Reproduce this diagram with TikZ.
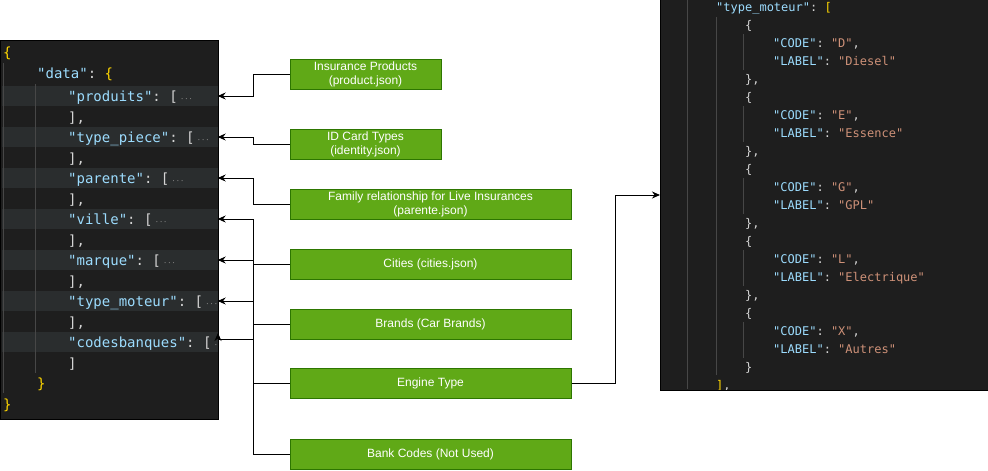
\documentclass[tikz,border=0pt]{standalone}
\usepackage{fontspec}
\setmainfont{Liberation Sans}
\setmonofont{DejaVu Sans Mono}
\usetikzlibrary{positioning, arrows.meta}

\definecolor{codebg}{HTML}{1E1E1E}
\definecolor{rowbg}{HTML}{2A2D2E}
\definecolor{guidegray}{HTML}{474747}
\definecolor{keyblue}{HTML}{9CDCFE}
\definecolor{strorange}{HTML}{CE9178}
\definecolor{punct}{HTML}{D4D4D4}
\definecolor{bracegold}{HTML}{FFD700}
\definecolor{foldgray}{HTML}{8A8A8A}
\definecolor{boxgreen}{HTML}{60A917}
\definecolor{boxborder}{HTML}{2D7600}

\newcommand{\jkey}[1]{\textcolor{keyblue}{#1}}
\newcommand{\jstr}[1]{\textcolor{strorange}{#1}}
\newcommand{\jbrace}[1]{\textcolor{bracegold}{#1}}
\newcommand{\foldmark}{\,{\color{foldgray}\fontsize{7}{7}\selectfont\textperiodcentered\textperiodcentered\textperiodcentered}}

\tikzset{
  >={Stealth[length=8pt, width=7pt]}, % classic arrow heads
  infobox/.style={draw=boxborder, fill=boxgreen, text=white, line width=1pt, minimum height=30pt, align=center, font=\fontsize{12}{14}\selectfont, inner sep=0.5pt}, % green boxes
  smallbox/.style={infobox, minimum width=151pt},
  widebox/.style={infobox, minimum width=281pt},
  link/.style={->, line width=1pt}, % connectors
  code/.style={anchor=base west, inner sep=0pt, text=punct, font=\ttfamily\fontsize{14}{14}\selectfont},
  codesm/.style={code, font=\ttfamily\fontsize{12}{12}\selectfont},
  hlrow/.style={fill=rowbg, minimum width=216pt, minimum height=20pt, inner sep=0pt},
  guide/.style={draw=guidegray, line width=1pt},
}

\begin{document}
\begin{tikzpicture}[x=1pt, y=-1pt]
    \useasboundingbox (0,0) rectangle (988,471);

    % left json panel
    \filldraw[fill=codebg, draw=black, line width=1pt] (0,40) rectangle (218,419);
    \foreach \yy/\nm in {96/prod, 137/piece, 178/parente, 219/ville, 260/marque, 301/moteur, 342/codes}
        \node[hlrow] (row\nm) at (109.5,\yy) {};
    \draw[guide] (3,63) -- (3,393);
    \draw[guide] (35,84) -- (35,373);

    \begin{scope}
        \clip (0,40) rectangle (218,419);
        \node[code] (lopen) at (3,57) {\jbrace{\{}};
        \node[code] (ldata) at (37,78) {\jkey{"data"}: \jbrace{\{}};
        \foreach \k [count=\i from 0] in {produits, type\_piece, parente, ville, marque, type\_moteur, codesbanques} {
            \node[code] (key\i) at (68,{101+41*\i}) {\jkey{"\k"}: [\foldmark};
            \node[code] (close\i) at (68,{122+41*\i}) {]\ifnum\i<6 ,\fi};
        }
        \node[code] (ldataend) at (37,388) {\jbrace{\}}};
        \node[code] (lend) at (3,409) {\jbrace{\}}};
    \end{scope}

    % right json panel
    \fill[codebg] (660,-5) rectangle (993,390);
    \draw[line width=1pt] (660,-5) -- (660,390) -- (993,390);
    \draw[guide] (687,-5) -- (687,389);
    \draw[guide] (716,17) -- (716,375);
    \foreach \i in {0,...,4}
        \draw[guide] (743,{34+72*\i}) -- (743,{70+72*\i});

    \begin{scope}
        \clip (660,-5) rectangle (993,389.5);
        \node[codesm] (moteurkey) at (716,11) {\jkey{"type\_moteur"}: \jbrace{[}};
        \foreach \c/\l [count=\i from 0] in {D/Diesel, E/Essence, G/GPL, L/Electrique, X/Autres} {
            \node[codesm] (open\c) at (745,{29+72*\i}) {\{};
            \node[codesm] (code\c) at (773,{47+72*\i}) {\jkey{"CODE"}: \jstr{"\c"},};
            \node[codesm] (label\c) at (773,{65+72*\i}) {\jkey{"LABEL"}: \jstr{"\l"}};
            \node[codesm] (shut\c) at (745,{83+72*\i}) {\}\ifnum\i<4 ,\fi};
        }
        \node[codesm] (moteurend) at (716,389) {\jbrace{]},};
    \end{scope}

    % source boxes
    \node[smallbox] (products) at (365.5,74) {Insurance Products\\(product.json)};
    \node[smallbox, below=39pt of products] (idcards) {ID Card Types\\(identity.json)};
    \node[widebox, below=29pt of idcards.south west, anchor=north west] (family) {Family relationship for Live Insurances\\(parente.json)};
    \node[widebox, below=29pt of family] (cities) {Cities (cities.json)};
    \node[widebox, below=29pt of cities] (brands) {Brands (Car Brands)};
    \node[widebox, below=28pt of brands] (engine) {Engine Type};
    \node[widebox, below=40pt of engine] (bank) {Bank Codes (Not Used)};

    \coordinate (codesin) at (218,333);
    \coordinate (moteurin) at (660,195);

    \draw[link] (products.west) -- ++(-36,0) |- (rowprod.east);
    \draw[link] (idcards.west) -- ++(-36,0) |- (rowpiece.east);
    \draw[link] (family.west) -- ++(-36,0) |- (rowparente.east);
    \draw[link] (cities.west) -- ++(-36,0) |- (rowville.east);
    \draw[link] (brands.west) -- ++(-36,0) |- (rowmarque.east);
    \draw[link] (engine.west) -- ++(-36,0) |- (rowmoteur.east);
    \draw[link] (bank.west) -- ++(-36,0) |- ([yshift=-6pt]codesin) -- (codesin);
    \draw[link] (engine.east) -- ++(44,0) |- (moteurin);
\end{tikzpicture}
\end{document}
